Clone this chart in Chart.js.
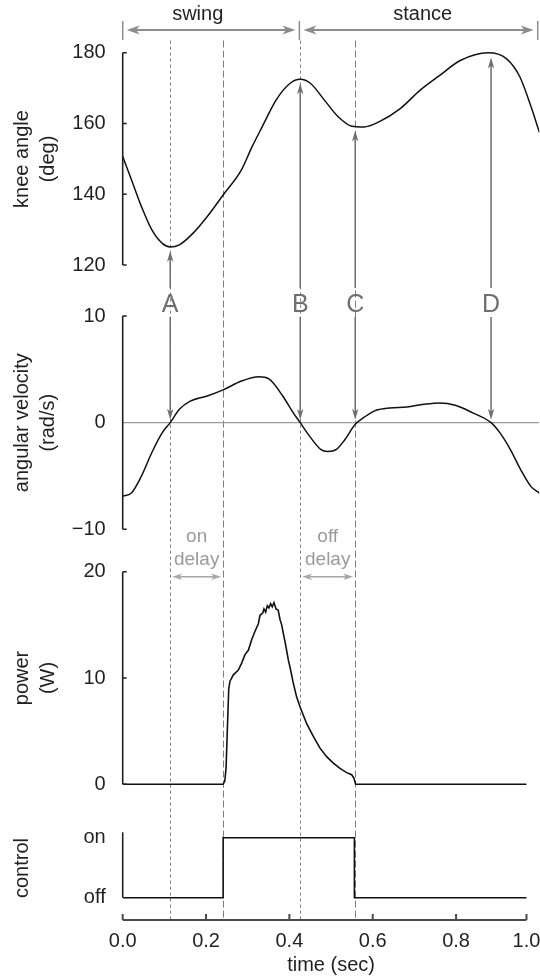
<!DOCTYPE html>
<html>
<head>
<meta charset="utf-8">
<script src="https://cdn.jsdelivr.net/npm/chart.js@4/dist/chart.umd.min.js"></script>
<style>
  html, body { margin: 0; padding: 0; background: #fff; }
  canvas { display: block; }
</style>
</head>
<body>
<canvas id="gait" width="540" height="977"></canvas>
<script>
// --- data ---
const kneeT = [0, 0.021, 0.045, 0.070, 0.095, 0.114, 0.136, 0.169, 0.203, 0.241, 0.285, 0.310, 0.335, 0.368, 0.401, 0.426, 0.451, 0.484, 0.517, 0.550, 0.579, 0.616, 0.666, 0.714, 0.760, 0.810, 0.877, 0.920, 0.953, 0.980, 1.0];
const kneeAngle = [150.7, 144.1, 136.5, 129.9, 126.1, 125.1, 125.7, 129.0, 133.7, 139.8, 146.9, 153.3, 159.1, 166.6, 171.3, 172.5, 171.3, 166.6, 161.9, 159.2, 159.0, 160.5, 164.2, 169.4, 173.5, 177.8, 180.0, 178.4, 173.2, 164.7, 157.5];

const velT = [0, 0.021, 0.045, 0.070, 0.095, 0.114, 0.136, 0.161, 0.203, 0.241, 0.285, 0.327, 0.351, 0.384, 0.409, 0.426, 0.451, 0.475, 0.492, 0.513, 0.533, 0.558, 0.583, 0.608, 0.641, 0.682, 0.723, 0.761, 0.798, 0.839, 0.884, 0.905, 0.930, 0.955, 0.980, 1.0];
const velocity = [-6.9, -6.6, -5.0, -2.8, -0.94, 0, 1.25, 2.0, 2.5, 3.07, 3.9, 4.3, 4.1, 2.5, 0.94, 0, -1.4, -2.5, -2.7, -2.5, -1.6, -0.16, 0.6, 1.16, 1.38, 1.47, 1.72, 1.85, 1.63, 0.94, 0, -0.94, -2.5, -4.4, -6.0, -6.6];

const powerT = [0, 0.241, 0.245, 0.248, 0.251, 0.2545, 0.2575, 0.2655, 0.2775, 0.2855, 0.2935, 0.3015, 0.3095, 0.3175, 0.3255, 0.3295, 0.336, 0.339, 0.343, 0.347, 0.351, 0.355, 0.359, 0.363, 0.368, 0.373, 0.3775, 0.3815, 0.387, 0.392, 0.3975, 0.403, 0.4095, 0.4175, 0.4255, 0.4415, 0.4575, 0.4735, 0.4895, 0.5055, 0.5215, 0.5375, 0.5495, 0.555, 0.559, 0.969];
const power = [0, 0, 0.3, 1.5, 5, 9, 9.7, 10.3, 10.75, 11.4, 12.2, 12.6, 13.6, 14.4, 15.1, 15.9, 16.1, 16.5, 16.2, 16.8, 16.6, 17.0, 16.7, 17.1, 16.5, 16.4, 15.5, 15.0, 13.9, 12.9, 11.7, 10.75, 9.5, 8.2, 7.3, 5.7, 4.5, 3.4, 2.6, 2.0, 1.5, 1.1, 0.9, 0.56, 0, 0];

const controlT = [0, 0.241, 0.241, 0.556, 0.556, 0.969];
const control = [0, 0, 1, 1, 0, 0];

const zeroT = [0, 1];
const zeroLine = [0, 0];

// tick values / labels
const xTicks = [0, 0.2, 0.4, 0.6, 0.8, 0.969];
const xTickLabels = ["0.0", "0.2", "0.4", "0.6", "0.8", "1.0"];
const kneeTicks = [120, 140, 160, 180];
const velTicks = [-10, 0, 10];
const velTickLabels = ["\u221210", "0", "10"];
const powerTicks = [0, 10, 20];
const controlTicks = [0, 1];
const controlTickLabels = ["off", "on"];

// annotations
const eventLetters = ["A", "B", "C", "D"];
const eventT = [0.114, 0.426, 0.558, 0.884];
const fineDashT = [0.114, 0.426];
const longDashT = [0.241, 0.558];
const phaseNames = ["swing", "stance"];
const phaseBounds = [0, 0.424, 0.996];
const phaseLabelT = [0.18, 0.72];
const delayNames = ["on", "off"];
const delayStart = [0.114, 0.426];
const delayEnd = [0.241, 0.558];

const FONT = "'Liberation Sans', Arial, Helvetica, sans-serif";
Chart.defaults.font.family = FONT;
Chart.defaults.color = "#231f20";

const pts = (xs, ys) => xs.map((x, i) => ({ x, y: ys[i] }));

function kneeAt(t) {
  for (let i = 1; i < kneeT.length; i++) {
    if (t <= kneeT[i]) {
      const f = (t - kneeT[i - 1]) / (kneeT[i] - kneeT[i - 1]);
      return kneeAngle[i - 1] + f * (kneeAngle[i] - kneeAngle[i - 1]);
    }
  }
  return kneeAngle[kneeAngle.length - 1];
}

// y panel scale factory (stacked on the left)
function panel(weight, stackWeight, min, max, ticks, labels, title) {
  return {
    type: "linear", position: "left", stack: "panels",
    weight, stackWeight, min, max, bounds: "data",
    afterBuildTicks: s => { s.ticks = ticks.map(v => ({ value: v })); },
    afterFit: s => { s.width = 122.7; s.paddingTop = 0; s.paddingBottom = 0; },
    grid: { display: false, drawTicks: false },
    border: { display: false },
    ticks: {
      padding: 17, autoSkip: false, color: "#231f20",
      font: { size: 20 },
      callback: (v, i) => labels ? labels[i] : String(ticks[i])
    },
    title: {
      display: true, text: title, color: "#231f20",
      font: { size: 20, lineHeight: 1.3 },
      padding: { top: 9.5, bottom: 0 }
    }
  };
}

function arrowHead(ctx, x, y, dx, dy, len, half) {
  const bx = x - dx * len, by = y - dy * len;
  const px = -dy, py = dx;
  ctx.beginPath();
  ctx.moveTo(x, y);
  ctx.lineTo(bx + px * half, by + py * half);
  ctx.lineTo(x - dx * len * 0.72, y - dy * len * 0.72);
  ctx.lineTo(bx - px * half, by - py * half);
  ctx.closePath();
  ctx.fill();
}

function arrow(ctx, x0, y0, x1, y1, len, half, both) {
  const d = Math.hypot(x1 - x0, y1 - y0);
  const dx = (x1 - x0) / d, dy = (y1 - y0) / d;
  const s = both ? len * 0.7 : 0;
  ctx.beginPath();
  ctx.moveTo(x0 + dx * s, y0 + dy * s);
  ctx.lineTo(x1 - dx * len * 0.7, y1 - dy * len * 0.7);
  ctx.stroke();
  arrowHead(ctx, x1, y1, dx, dy, len, half);
  if (both) arrowHead(ctx, x0, y0, -dx, -dy, len, half);
}

const gaitAnnotations = {
  id: "gaitAnnotations",
  beforeDatasetsDraw(chart) {
    const { ctx, chartArea, scales } = chart;
    const sx = scales.x;
    const yTop = chartArea.top + 28;
    ctx.save();
    ctx.lineWidth = 1;
    ctx.strokeStyle = "#7d7d7d";
    const dashed = (t, pattern) => {
      const x = Math.round(sx.getPixelForValue(t)) + 0.5;
      ctx.setLineDash(pattern);
      ctx.beginPath();
      ctx.moveTo(x, yTop);
      ctx.lineTo(x, chartArea.bottom);
      ctx.stroke();
    };
    fineDashT.forEach(t => dashed(t, [3, 3]));
    longDashT.forEach(t => dashed(t, [7, 3]));
    ctx.restore();
  },
  afterDatasetsDraw(chart) {
    const { ctx, chartArea, scales } = chart;
    const sx = scales.x, yK = scales.yKnee, yV = scales.yVel, yP = scales.yPow, yC = scales.yCtl;
    const left = chartArea.left;
    ctx.save();

    // y spines with inward ticks
    ctx.strokeStyle = "#231f20";
    ctx.lineWidth = 1.6;
    const spine = (scale, from, to, ticks) => {
      ctx.beginPath();
      ctx.moveTo(left, scale.getPixelForValue(from));
      ctx.lineTo(left, scale.getPixelForValue(to));
      ticks.forEach(v => {
        const y = scale.getPixelForValue(v);
        ctx.moveTo(left, y);
        ctx.lineTo(left + 4, y);
      });
      ctx.stroke();
    };
    spine(yK, 180, 120, kneeTicks);
    spine(yV, 10, -10, [10, -10]);
    spine(yP, 20, 0, powerTicks);
    spine(yC, 1.09, 0, []);

    // x spine with inward ticks
    ctx.strokeStyle = "#4a4a4a";
    ctx.lineWidth = 2;
    const yb = chartArea.bottom;
    ctx.beginPath();
    ctx.moveTo(sx.getPixelForValue(0), yb);
    ctx.lineTo(sx.getPixelForValue(xTicks[xTicks.length - 1]), yb);
    xTicks.forEach(v => {
      const x = sx.getPixelForValue(v);
      ctx.moveTo(x, yb);
      ctx.lineTo(x, yb - 6);
    });
    ctx.stroke();

    // swing / stance arrows
    const yPhase = chartArea.top + 17.4;
    ctx.strokeStyle = "#8c8c8c";
    ctx.fillStyle = "#8c8c8c";
    ctx.lineWidth = 1.5;
    phaseBounds.forEach(t => {
      const x = sx.getPixelForValue(t);
      ctx.beginPath();
      ctx.moveTo(x, yPhase - 9);
      ctx.lineTo(x, yPhase + 10);
      ctx.stroke();
    });
    ctx.lineWidth = 2;
    for (let i = 0; i < phaseNames.length; i++) {
      const x0 = sx.getPixelForValue(phaseBounds[i]) + 4;
      const x1 = sx.getPixelForValue(phaseBounds[i + 1]) - 4;
      arrow(ctx, x0, yPhase, x1, yPhase, 13, 4.5, true);
    }
    ctx.fillStyle = "#231f20";
    ctx.font = "20px " + FONT;
    ctx.textAlign = "center";
    ctx.textBaseline = "middle";
    phaseNames.forEach((name, i) => ctx.fillText(name, sx.getPixelForValue(phaseLabelT[i]), yPhase - 16));

    // event letters with arrows to knee curve and velocity zero
    const yLetter = yV.getPixelForValue(10) - 12;
    ctx.strokeStyle = "#6e6e6e";
    ctx.fillStyle = "#6e6e6e";
    ctx.lineWidth = 1.5;
    eventT.forEach((t, i) => {
      const x = sx.getPixelForValue(t);
      const tipUp = yK.getPixelForValue(kneeAt(t)) + 4;
      arrow(ctx, x, yLetter - 16, x, tipUp, 11, 3.2, false);
      arrow(ctx, x, yLetter + 13, x, yV.getPixelForValue(0) - 3, 11, 3.2, false);
    });
    ctx.font = "25px " + FONT;
    ctx.textBaseline = "middle";
    eventLetters.forEach((L, i) => ctx.fillText(L, sx.getPixelForValue(eventT[i]), yLetter + 1));

    // on / off delay
    const yDelay = yP.getPixelForValue(20) + 5;
    ctx.strokeStyle = "#a6a6a6";
    ctx.fillStyle = "#a6a6a6";
    ctx.lineWidth = 1.4;
    delayNames.forEach((name, i) => {
      const x0 = sx.getPixelForValue(delayStart[i]) + 2;
      const x1 = sx.getPixelForValue(delayEnd[i]) - 2;
      arrow(ctx, x0, yDelay, x1, yDelay, 10, 3.2, true);
    });
    ctx.fillStyle = "#9a9a9a";
    ctx.font = "19px " + FONT;
    delayNames.forEach((name, i) => {
      const xc = (sx.getPixelForValue(delayStart[i]) + sx.getPixelForValue(delayEnd[i])) / 2;
      ctx.fillText(name, xc, yDelay - 40);
      ctx.fillText("delay", xc, yDelay - 17);
    });

    ctx.restore();
  }
};

const line = (data, yAxisID, opts) => Object.assign({
  data, yAxisID, borderColor: "#111", borderWidth: 1.5,
  pointRadius: 0, fill: false, tension: 0
}, opts);

new Chart(document.getElementById("gait"), {
  type: "line",
  data: {
    datasets: [
      line(pts(kneeT, kneeAngle), "yKnee", { cubicInterpolationMode: "monotone" }),
      line(pts(velT, velocity), "yVel", { cubicInterpolationMode: "monotone" }),
      line(pts(powerT, power), "yPow", { borderWidth: 1.6 }),
      line(pts(controlT, control), "yCtl", { borderWidth: 1.6 }),
      line(pts(zeroT, zeroLine), "yVel", { borderColor: "#9a9a9a", borderWidth: 1.2 })
    ]
  },
  options: {
    responsive: false,
    animation: false,
    devicePixelRatio: 1,
    layout: { padding: { top: 12.6, right: 0.6, bottom: 0, left: 0 } },
    plugins: { legend: { display: false }, tooltip: { enabled: false } },
    scales: {
      x: {
        type: "linear", min: 0, max: 1, bounds: "data",
        afterBuildTicks: s => { s.ticks = xTicks.map(v => ({ value: v })); },
        afterFit: s => { s.height = 57; s.paddingLeft = 0; s.paddingRight = 0; },
        grid: { display: false, drawTicks: false },
        border: { display: false },
        ticks: {
          padding: 9, autoSkip: false, maxRotation: 0, color: "#231f20",
          font: { size: 20 },
          callback: (v, i) => xTickLabels[i]
        },
        title: { display: true, text: "time (sec)", color: "#231f20", font: { size: 20 }, padding: { top: 0, bottom: 0 } }
      },
      yKnee: panel(4, 292.8, 108.58, 191.33, kneeTicks, null, ["knee angle", "(deg)"]),
      yVel: panel(3, 234.6, -11.003, 10.994, velTicks, velTickLabels, ["angular velocity", "(rad/s)"]),
      yPow: panel(2, 276, -2.98, 22.98, powerTicks, null, ["power", "(W)"]),
      yCtl: panel(1, 104, -0.372, 1.362, controlTicks, controlTickLabels, "control")
    }
  },
  plugins: [gaitAnnotations]
});
</script>
</body>
</html>
